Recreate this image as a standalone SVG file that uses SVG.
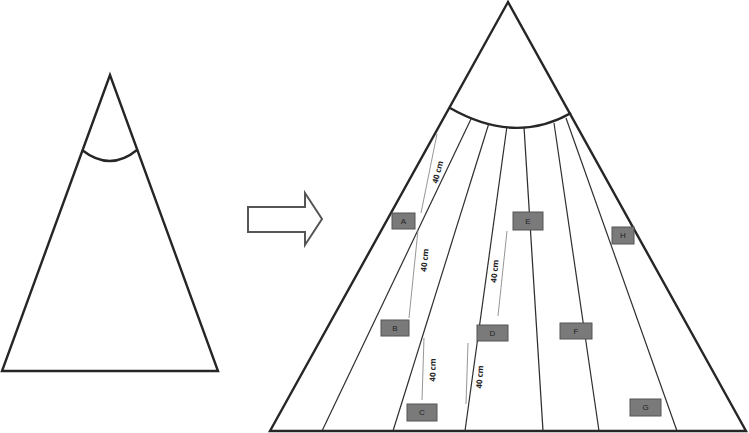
<svg xmlns="http://www.w3.org/2000/svg" width="749" height="433" viewBox="0 0 749 433">
<style>
.edge{fill:none;stroke:#262626;stroke-width:2.4;stroke-linejoin:miter}
.div{stroke:#2e2e2e;stroke-width:1.2;fill:none}
.meas{stroke:#8a8a8a;stroke-width:0.9}
.box{fill:#7a7a7a;stroke:#555;stroke-width:1}
.bl{font-family:"Liberation Sans",Arial,sans-serif;font-size:8px;fill:#222;text-anchor:middle;dominant-baseline:central}
.ml{font-family:"Open Sans","Liberation Sans",sans-serif;font-size:8px;font-weight:bold;fill:#222;text-anchor:middle;dominant-baseline:central}
</style>
<rect width="749" height="433" fill="#fff"/>
<g id="small-cone">
<polygon class="edge" points="110,75 2,371 218,371" stroke-width="2"/>
<path class="edge" d="M82,150 Q110,172 137,150" stroke-width="2"/>
</g>
<g id="arrow">
<polygon points="248,207 305,207 305,193 322,219 305,245 305,232 248,232" fill="#fff" stroke="#555" stroke-width="2"/>
</g>
<g id="big-cone">
<polygon class="edge" points="508,2 270,431 746,431"/>
<path class="edge" d="M450,108 Q515,145 571,113" stroke-width="2"/>
</g>
<g id="connectors">
<line class="div" x1="471" y1="119" x2="322" y2="431"/>
<line class="div" x1="489" y1="123" x2="393" y2="431"/>
<line class="div" x1="507" y1="126" x2="465" y2="431"/>
<line class="div" x1="524" y1="127" x2="543" y2="431"/>
<line class="div" x1="554" y1="123" x2="599" y2="431"/>
<line class="div" x1="566" y1="118" x2="677" y2="431"/>
<line class="meas" x1="437" y1="134" x2="421" y2="213"/>
<line class="meas" x1="418" y1="230" x2="409" y2="318"/>
<line class="meas" x1="424" y1="338" x2="422" y2="400"/>
<line class="meas" x1="507" y1="231" x2="498" y2="316"/>
<line class="meas" x1="468" y1="343" x2="466" y2="404"/>
</g>
<g id="labels">
<text class="ml" transform="translate(437,172) rotate(-75)">40 cm</text>
<text class="ml" transform="translate(424,260) rotate(-84)">40 cm</text>
<text class="ml" transform="translate(432,370) rotate(-89)">40 cm</text>
<text class="ml" transform="translate(494,271) rotate(-84)">40 cm</text>
<text class="ml" transform="translate(479,377) rotate(-86)">40 cm</text>
</g>
<g id="A"><rect class="box" x="392" y="213" width="23" height="16"/><text class="bl" x="403.5" y="221">A</text></g>
<g id="E"><rect class="box" x="513" y="212" width="30" height="18"/><text class="bl" x="528" y="221">E</text></g>
<g id="H"><rect class="box" x="612" y="227" width="22" height="17"/><text class="bl" x="623" y="235.5">H</text></g>
<g id="B"><rect class="box" x="381" y="320" width="28" height="16"/><text class="bl" x="395" y="328">B</text></g>
<g id="D"><rect class="box" x="477" y="325" width="31" height="16"/><text class="bl" x="492.5" y="333">D</text></g>
<g id="F"><rect class="box" x="560" y="323" width="32" height="16"/><text class="bl" x="576" y="331">F</text></g>
<g id="C"><rect class="box" x="407" y="404" width="30" height="17"/><text class="bl" x="422" y="412.5">C</text></g>
<g id="G"><rect class="box" x="630" y="399" width="31" height="17"/><text class="bl" x="645.5" y="407.5">G</text></g>
</svg>
